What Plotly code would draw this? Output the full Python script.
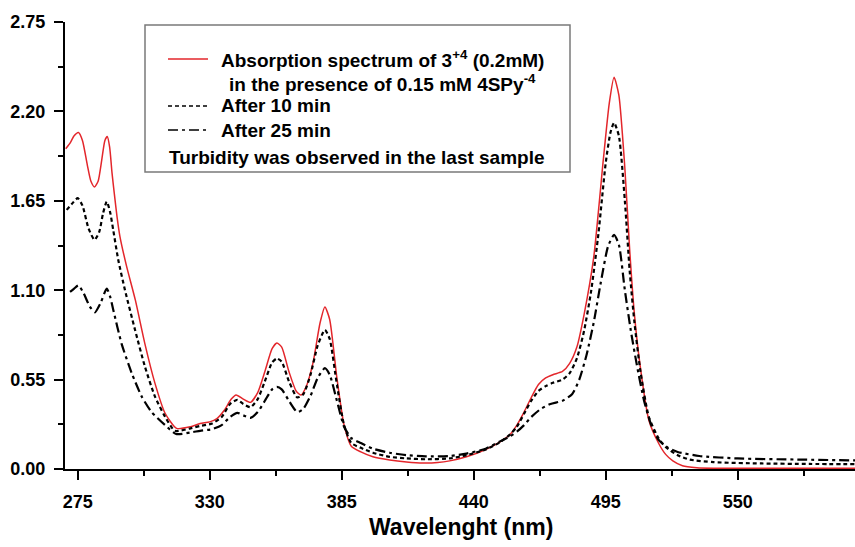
import plotly.graph_objects as go

# ---- data ----
wl_red = [270, 272, 273.5, 275.3, 277, 279, 280.5, 282, 283.5, 285, 286.3, 287.3, 288.3, 289.3, 290.2,
          291.4, 292.6, 295.4, 299, 303, 307.2, 311.4, 316.2, 322, 326, 330, 333, 336, 339, 341, 344,
          347, 350, 353, 356, 358, 360, 363, 366, 368, 370, 373, 376, 378, 380, 383, 386, 389, 393,
          398, 405, 412, 419, 425, 430, 437, 445, 451, 455, 458, 461, 464, 467, 470, 473, 477, 480,
          483, 486, 490, 494, 496.5, 498.5, 500.5, 503, 505, 507, 509.5, 513, 517, 520, 523, 527,
          533, 540, 560, 580, 600]
abs_red = [1.97, 2.01, 2.05, 2.07, 2.02, 1.87, 1.77, 1.735, 1.77, 1.90, 2.02, 2.045, 1.98, 1.82, 1.70,
           1.55, 1.43, 1.245, 1.04, 0.77, 0.527, 0.343, 0.25, 0.26, 0.28, 0.29, 0.31, 0.36, 0.43, 0.455, 0.43,
           0.41, 0.47, 0.60, 0.74, 0.775, 0.75, 0.60, 0.48, 0.455, 0.50, 0.65, 0.90, 0.997, 0.92, 0.56, 0.27,
           0.14, 0.105, 0.075, 0.055, 0.043, 0.037, 0.04, 0.05, 0.075, 0.12, 0.167, 0.21, 0.27, 0.35, 0.44,
           0.52, 0.56, 0.58, 0.60, 0.65, 0.75, 0.95, 1.30, 1.90, 2.25, 2.41, 2.30, 1.85, 1.35, 0.95, 0.62,
           0.30, 0.16, 0.09, 0.05, 0.02, 0.008, 0.005, 0.004, 0.004, 0.004]

wl_10 = [270.4, 272.5, 275, 277, 279.5, 282, 284, 285.5, 287.1, 288.5, 289.8, 291.9, 294.7, 298.9, 303,
         307.2, 311.4, 315.5, 322, 326, 331, 335, 338.5, 341.5, 344, 347, 350, 353, 356, 358, 360, 363,
         366.5, 369, 372, 375, 378, 380, 383, 386, 389, 393, 398, 405, 412, 420, 430, 437, 445, 451, 455,
         458, 461, 464, 467, 470, 473, 477, 480, 483, 486, 489, 492, 495, 497, 498.5, 500.5, 503, 505, 507,
         509.5, 513, 517, 520, 525, 530, 540, 560, 580, 600]
abs_10 = [1.594, 1.63, 1.666, 1.62, 1.48, 1.41, 1.46, 1.57, 1.645, 1.58, 1.47, 1.286, 1.10, 0.855, 0.63,
          0.445, 0.322, 0.235, 0.25, 0.265, 0.28, 0.32, 0.40, 0.425, 0.40, 0.38, 0.43, 0.54, 0.655, 0.68, 0.66, 0.54,
          0.44, 0.46, 0.58, 0.76, 0.855, 0.80, 0.52, 0.27, 0.16, 0.13, 0.10, 0.075, 0.065, 0.06, 0.065, 0.085, 0.12,
          0.165, 0.21, 0.26, 0.34, 0.42, 0.48, 0.51, 0.53, 0.55, 0.59, 0.68, 0.85, 1.10, 1.45, 1.88, 2.07, 2.13,
          2.05, 1.65, 1.22, 0.90, 0.60, 0.32, 0.19, 0.135, 0.085, 0.058, 0.042, 0.034, 0.031, 0.03]

wl_25 = [271.8, 273.5, 275.3, 277.5, 280, 282.2, 284.5, 287.1, 288.5, 289.8, 293.3, 297.5, 301.7, 305.8,
         311.4, 316, 322, 326, 331, 335, 338.5, 341.5, 344, 347, 350, 353, 356, 358, 360, 363, 366.5, 369,
         372, 375, 378, 380, 383, 386, 389, 393, 398, 405, 412, 420, 430, 437, 445, 451, 455, 458, 461, 464,
         468, 472, 477, 481, 484, 487, 490, 493, 496, 498.5, 500.5, 503, 505.5, 508, 511, 514, 517, 521,
         525, 534, 550, 575, 600]
abs_25 = [1.09, 1.11, 1.13, 1.08, 1.0, 0.964, 1.02, 1.11, 1.06, 0.98, 0.77, 0.59, 0.445, 0.35,
          0.27, 0.215, 0.225, 0.235, 0.245, 0.27, 0.32, 0.345, 0.33, 0.315, 0.35, 0.42, 0.49, 0.505, 0.49, 0.42,
          0.35, 0.37, 0.45, 0.56, 0.62, 0.58, 0.42, 0.26, 0.19, 0.16, 0.125, 0.1, 0.085, 0.078, 0.08, 0.095,
          0.125, 0.17, 0.2, 0.23, 0.27, 0.32, 0.37, 0.40, 0.42, 0.46, 0.55, 0.70, 0.90, 1.15, 1.37, 1.44, 1.38,
          1.10, 0.85, 0.64, 0.42, 0.27, 0.18, 0.13, 0.105, 0.08, 0.065, 0.058, 0.053]

x_ticks = [275, 330, 385, 440, 495, 550]
y_ticks = [0.00, 0.55, 1.10, 1.65, 2.20, 2.75]
x_title = "Wavelenght (nm)"
legend_lines = [
    "Absorption spectrum of 3<sup>+4</sup> (0.2mM)",
    "in the presence of 0.15 mM 4SPy<sup>-4</sup>",
    "After 10 min",
    "After 25 min",
    "Turbidity was observed in the last sample",
]

RED = "#e3262b"
FONT = "Arial, Liberation Sans, sans-serif"
W, H = 855, 547
ML, MR, MT, MB = 65, 0, 22, 78
PW, PH = W - ML - MR, H - MT - MB


def px(xp):
    return (xp - ML) / PW


def py(yp):
    return (H - MB - yp) / PH


fig = go.Figure()
fig.add_trace(go.Scatter(x=wl_red, y=abs_red, mode="lines",
                         line=dict(color=RED, width=1.5, shape="spline", smoothing=0.6)))
fig.add_trace(go.Scatter(x=wl_10, y=abs_10, mode="lines",
                         line=dict(color="black", width=2.2, dash="4px,3px", shape="spline", smoothing=0.6)))
fig.add_trace(go.Scatter(x=wl_25, y=abs_25, mode="lines",
                         line=dict(color="black", width=2.2, dash="10px,4px,3px,4px", shape="spline", smoothing=0.6)))

axis_common = dict(showline=True, linecolor="black", linewidth=2, ticks="outside", ticklen=9,
                   tickwidth=2, tickcolor="black", showgrid=False, zeroline=False,
                   tickfont=dict(family=FONT, size=18, color="black", weight="bold"))

fig.update_xaxes(range=[269.7, 598.9], tickmode="array", tickvals=x_ticks,
                 ticktext=[str(v) for v in x_ticks], ticklabelstandoff=6,
                 minor=dict(ticks="outside", ticklen=5, tickwidth=2, tickcolor="black",
                            tickmode="linear", tick0=275, dtick=27.5),
                 **axis_common)
fig.update_yaxes(range=[0, 2.75], tickmode="array", tickvals=y_ticks,
                 ticktext=["%.2f" % v for v in y_ticks], ticklabelstandoff=5,
                 minor=dict(ticks="outside", ticklen=5, tickwidth=2, tickcolor="black",
                            tickmode="linear", tick0=0, dtick=0.275),
                 **axis_common)

shapes = [
    dict(type="rect", xref="paper", yref="paper", x0=px(145), x1=px(570), y0=py(172), y1=py(25),
         line=dict(color="#7a7a7a", width=1.5), fillcolor="white", layer="above"),
    dict(type="line", xref="paper", yref="paper", x0=px(168), x1=px(208), y0=py(59), y1=py(59),
         line=dict(color=RED, width=1.5)),
    dict(type="line", xref="paper", yref="paper", x0=px(168), x1=px(208), y0=py(106), y1=py(106),
         line=dict(color="black", width=1.5, dash="4px,3px")),
    dict(type="line", xref="paper", yref="paper", x0=px(168), x1=px(208), y0=py(130), y1=py(130),
         line=dict(color="black", width=1.5, dash="10px,4px,3px,4px")),
]

lf = dict(family=FONT, size=19, color="black", weight="bold")
annots = [
    dict(text=legend_lines[0], x=px(219), y=py(59), xanchor="left", yanchor="middle"),
    dict(text=legend_lines[1], x=px(227), y=py(83), xanchor="left", yanchor="middle"),
    dict(text=legend_lines[2], x=px(219), y=py(106), xanchor="left", yanchor="middle"),
    dict(text=legend_lines[3], x=px(219), y=py(130), xanchor="left", yanchor="middle"),
    dict(text=legend_lines[4], x=px(357), y=py(157), xanchor="center", yanchor="middle"),
    dict(text=x_title, x=px(461), y=py(527), xanchor="center", yanchor="middle",
         font=dict(family=FONT, size=23, color="black", weight="bold")),
]
for a in annots:
    a.update(xref="paper", yref="paper", showarrow=False)
    a.setdefault("font", lf)

fig.update_layout(width=W, height=H, margin=dict(l=ML, r=MR, t=MT, b=MB, pad=0),
                  paper_bgcolor="white", plot_bgcolor="white", showlegend=False,
                  shapes=shapes, annotations=annots)

fig.write_html("out.html")
